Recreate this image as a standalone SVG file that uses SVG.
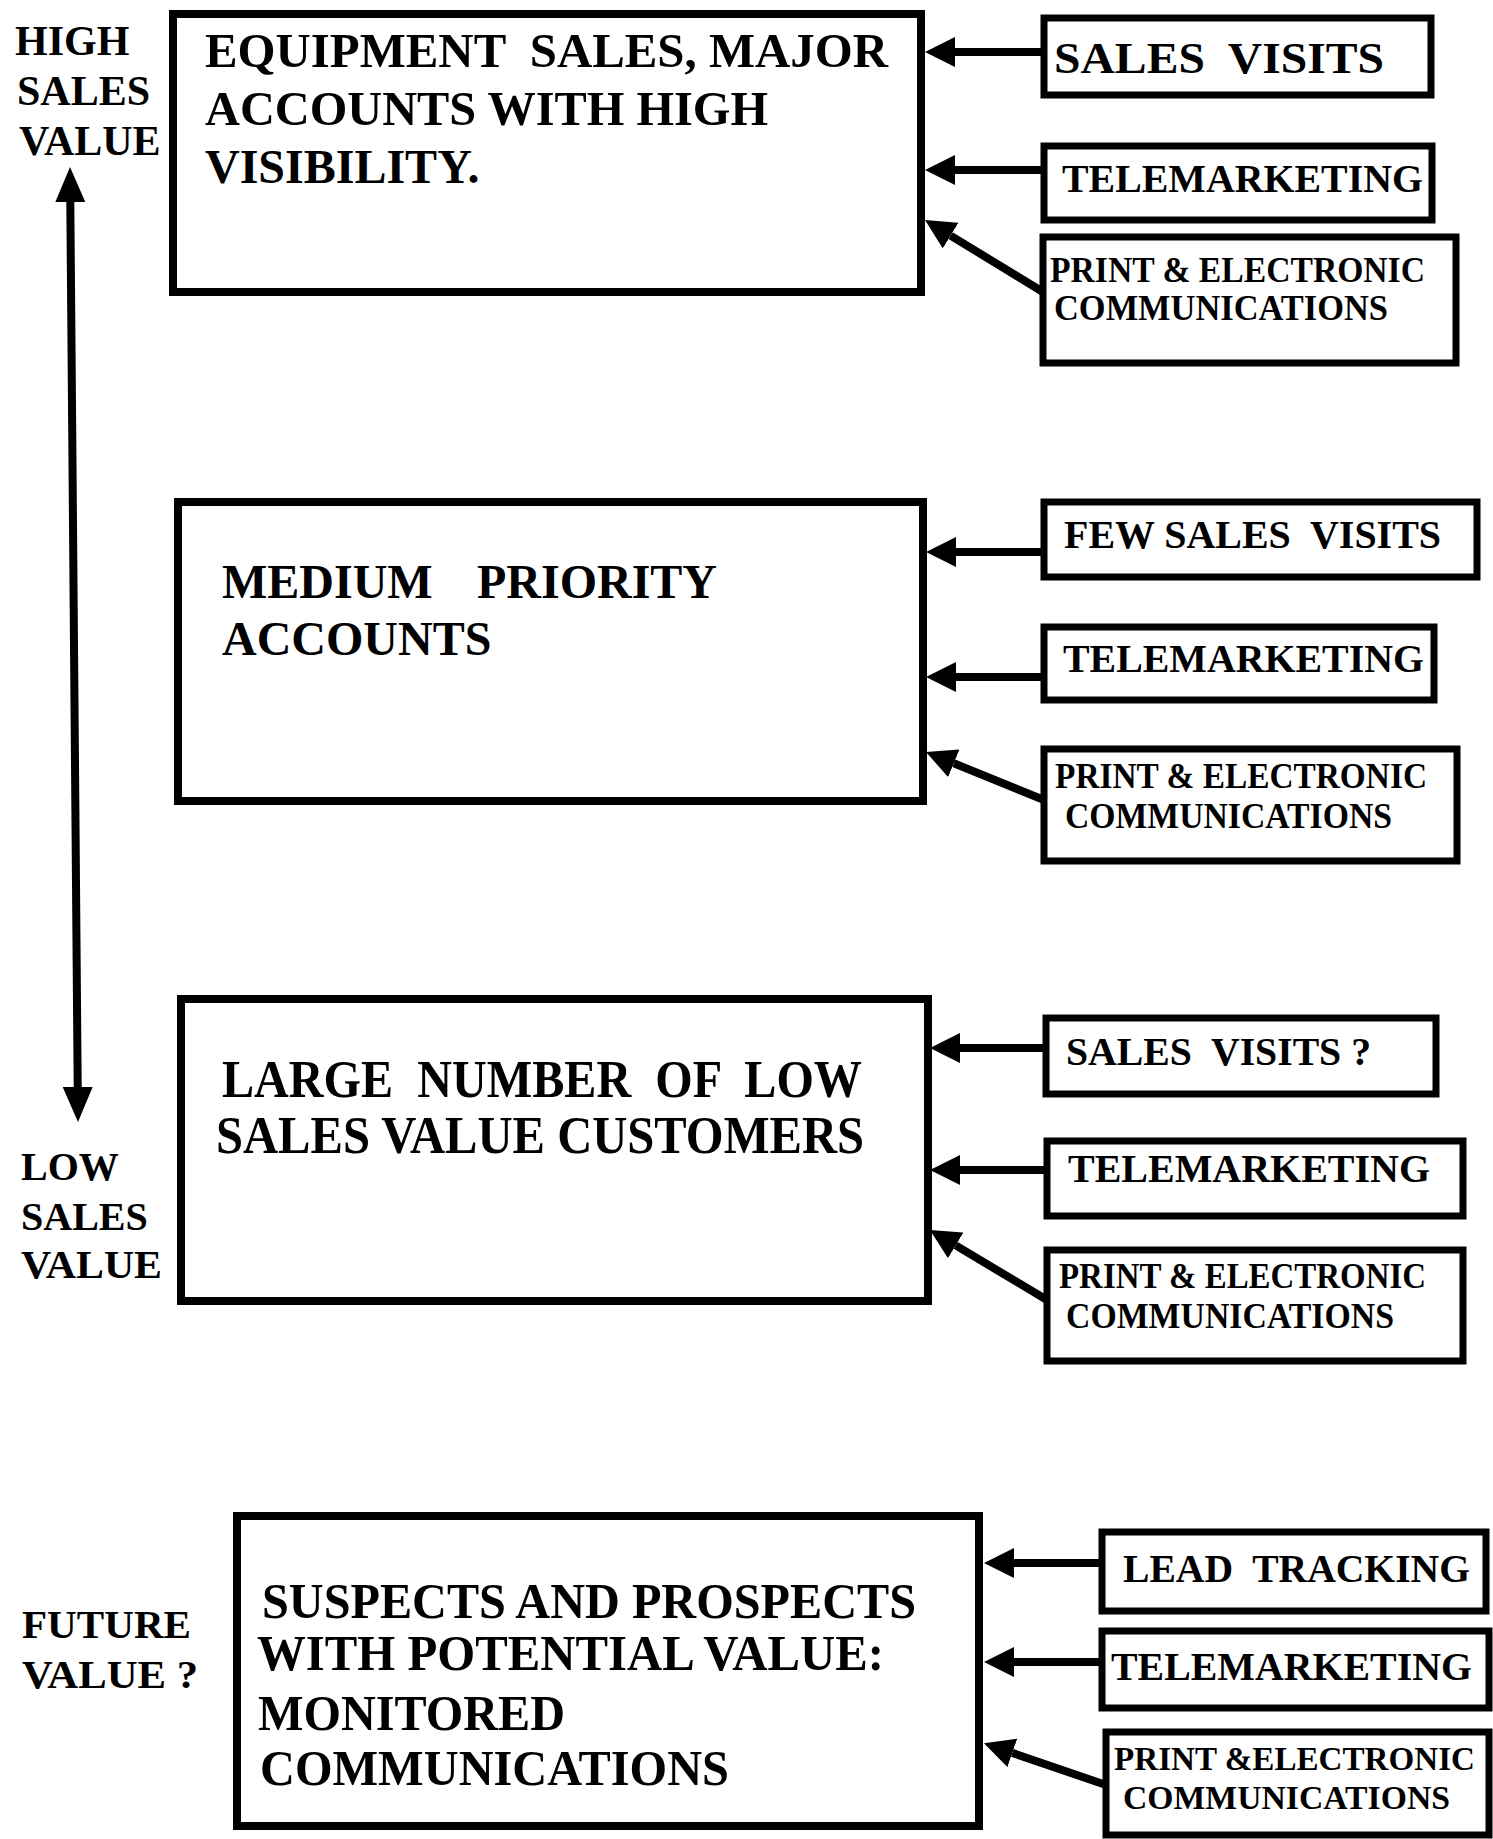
<svg xmlns="http://www.w3.org/2000/svg" width="1493" height="1839" viewBox="0 0 1493 1839">
  <style>
    .main { fill: #fff; stroke: #000; stroke-width: 8; }
    .side { fill: #fff; stroke: #000; stroke-width: 7; }
    text { font-family: "Liberation Serif", "Times New Roman", serif; font-weight: bold; fill: #000; }
    .t48 { font-size: 48px; }
    .t52 { font-size: 52px; }
    .t50 { font-size: 50px; }
    .t45 { font-size: 45px; }
    .t42 { font-size: 42px; }
    .t40 { font-size: 40px; }
    .t36 { font-size: 36px; }
    .t34 { font-size: 34px; }
    .conn { stroke: #000; stroke-width: 8; fill: none; marker-end: url(#head); }
  </style>
  <defs>
    <marker id="head" viewBox="0 0 30 30" refX="0" refY="15" markerWidth="30" markerHeight="30" markerUnits="userSpaceOnUse" orient="auto">
      <path d="M0,0 L30,15 L0,30 Z" fill="#000"/>
    </marker>
    <marker id="vhead" viewBox="0 0 35 30" refX="0" refY="15" markerWidth="35" markerHeight="30" markerUnits="userSpaceOnUse" orient="auto-start-reverse">
      <path d="M0,0 L35,15 L0,30 Z" fill="#000"/>
    </marker>
  </defs>
  <rect width="1493" height="1839" fill="#fff"/>

  <!-- sales value scale -->
  <g id="scale">
    <text class="t42" x="15" y="55">HIGH</text>
    <text class="t42" x="17" y="105">SALES</text>
    <text class="t42" x="19" y="155">VALUE</text>
    <line x1="70.3" y1="202" x2="77.7" y2="1087" stroke="#000" stroke-width="8" marker-start="url(#vhead)" marker-end="url(#vhead)"/>
    <text class="t40" x="21" y="1180">LOW</text>
    <text class="t40" x="21" y="1230">SALES</text>
    <text class="t40" x="21" y="1278" textLength="141" lengthAdjust="spacingAndGlyphs">VALUE</text>
  </g>
  <g id="future-label">
    <text class="t40" x="22" y="1638" textLength="169" lengthAdjust="spacingAndGlyphs">FUTURE</text>
    <text class="t40" x="22" y="1688" textLength="176" lengthAdjust="spacingAndGlyphs">VALUE ?</text>
  </g>

  <!-- account tiers -->
  <g id="major-accounts">
    <rect class="main" x="173" y="14" width="748" height="278"/>
    <text class="t48" x="205" y="67" xml:space="preserve" textLength="683" lengthAdjust="spacingAndGlyphs">EQUIPMENT  SALES, MAJOR</text>
    <text class="t48" x="205" y="125" textLength="563" lengthAdjust="spacingAndGlyphs">ACCOUNTS WITH HIGH</text>
    <text class="t48" x="205" y="183">VISIBILITY.</text>
  </g>
  <g id="medium-accounts">
    <rect class="main" x="178" y="502" width="745" height="299"/>
    <text class="t48" x="222" y="598">MEDIUM</text>
    <text class="t48" x="477" y="598">PRIORITY</text>
    <text class="t48" x="222" y="655">ACCOUNTS</text>
  </g>
  <g id="low-value-customers">
    <rect class="main" x="181" y="999" width="747" height="302"/>
    <text class="t52" x="222" y="1097" xml:space="preserve" textLength="640" lengthAdjust="spacingAndGlyphs">LARGE  NUMBER  OF  LOW</text>
    <text class="t52" x="216" y="1153" textLength="648" lengthAdjust="spacingAndGlyphs">SALES VALUE CUSTOMERS</text>
  </g>
  <g id="prospects">
    <rect class="main" x="237" y="1516" width="742" height="310"/>
    <text class="t50" x="262" y="1618" textLength="654" lengthAdjust="spacingAndGlyphs">SUSPECTS AND PROSPECTS</text>
    <text class="t50" x="257" y="1670" textLength="627" lengthAdjust="spacingAndGlyphs">WITH POTENTIAL VALUE:</text>
    <text class="t50" x="258" y="1730" textLength="307" lengthAdjust="spacingAndGlyphs">MONITORED</text>
    <text class="t50" x="260" y="1785" textLength="469" lengthAdjust="spacingAndGlyphs">COMMUNICATIONS</text>
  </g>

  <!-- contact channels -->
  <g id="major-visits">
    <rect class="side" x="1044" y="18" width="387" height="77"/>
    <text class="t45" x="1054" y="73" xml:space="preserve" textLength="330" lengthAdjust="spacingAndGlyphs">SALES  VISITS</text>
  </g>
  <g id="major-tele">
    <rect class="side" x="1044" y="146" width="388" height="74"/>
    <text class="t40" x="1062" y="192" textLength="361" lengthAdjust="spacingAndGlyphs">TELEMARKETING</text>
  </g>
  <g id="major-print">
    <rect class="side" x="1043" y="237" width="413" height="126"/>
    <text class="t36" x="1050" y="282" textLength="375" lengthAdjust="spacingAndGlyphs">PRINT &amp; ELECTRONIC</text>
    <text class="t36" x="1054" y="320" textLength="334" lengthAdjust="spacingAndGlyphs">COMMUNICATIONS</text>
  </g>

  <g id="medium-visits">
    <rect class="side" x="1044" y="502" width="433" height="75"/>
    <text class="t40" x="1064" y="548" xml:space="preserve" textLength="377" lengthAdjust="spacingAndGlyphs">FEW SALES  VISITS</text>
  </g>
  <g id="medium-tele">
    <rect class="side" x="1044" y="627" width="390" height="73"/>
    <text class="t40" x="1063" y="672" textLength="361" lengthAdjust="spacingAndGlyphs">TELEMARKETING</text>
  </g>
  <g id="medium-print">
    <rect class="side" x="1044" y="749" width="413" height="112"/>
    <text class="t36" x="1055" y="788" textLength="372" lengthAdjust="spacingAndGlyphs">PRINT &amp; ELECTRONIC</text>
    <text class="t36" x="1065" y="828" textLength="327" lengthAdjust="spacingAndGlyphs">COMMUNICATIONS</text>
  </g>

  <g id="low-visits">
    <rect class="side" x="1046" y="1018" width="390" height="76"/>
    <text class="t40" x="1066" y="1065" xml:space="preserve" textLength="305" lengthAdjust="spacingAndGlyphs">SALES  VISITS ?</text>
  </g>
  <g id="low-tele">
    <rect class="side" x="1047" y="1141" width="416" height="75"/>
    <text class="t40" x="1068" y="1182" textLength="362" lengthAdjust="spacingAndGlyphs">TELEMARKETING</text>
  </g>
  <g id="low-print">
    <rect class="side" x="1047" y="1250" width="416" height="111"/>
    <text class="t36" x="1059" y="1288" textLength="367" lengthAdjust="spacingAndGlyphs">PRINT &amp; ELECTRONIC</text>
    <text class="t36" x="1066" y="1328" textLength="328" lengthAdjust="spacingAndGlyphs">COMMUNICATIONS</text>
  </g>

  <g id="prospect-leads">
    <rect class="side" x="1102" y="1532" width="384" height="79"/>
    <text class="t40" x="1123" y="1582" xml:space="preserve" textLength="347" lengthAdjust="spacingAndGlyphs">LEAD  TRACKING</text>
  </g>
  <g id="prospect-tele">
    <rect class="side" x="1102" y="1631" width="387" height="77"/>
    <text class="t40" x="1111" y="1680" textLength="361" lengthAdjust="spacingAndGlyphs">TELEMARKETING</text>
  </g>
  <g id="prospect-print">
    <rect class="side" x="1106" y="1732" width="383" height="103"/>
    <text class="t34" x="1114" y="1770" textLength="361" lengthAdjust="spacingAndGlyphs">PRINT &amp;ELECTRONIC</text>
    <text class="t34" x="1123" y="1809" textLength="327" lengthAdjust="spacingAndGlyphs">COMMUNICATIONS</text>
  </g>

  <!-- channel arrows into each tier -->
  <g id="connectors">
    <line class="conn" x1="1044" y1="52" x2="955" y2="52"/>
    <line class="conn" x1="1044" y1="170" x2="955" y2="170"/>
    <line class="conn" x1="1043" y1="292" x2="950.6" y2="235.6"/>

    <line class="conn" x1="1044" y1="552" x2="956" y2="552"/>
    <line class="conn" x1="1044" y1="677" x2="956" y2="677"/>
    <line class="conn" x1="1044" y1="800" x2="953.8" y2="763.3"/>

    <line class="conn" x1="1047" y1="1048" x2="960" y2="1048"/>
    <line class="conn" x1="1047" y1="1170" x2="960" y2="1170"/>
    <line class="conn" x1="1047" y1="1300" x2="955.7" y2="1245.4"/>

    <line class="conn" x1="1102" y1="1563" x2="1014" y2="1563"/>
    <line class="conn" x1="1102" y1="1662" x2="1014" y2="1662"/>
    <line class="conn" x1="1106" y1="1785" x2="1012.3" y2="1752.9"/>
  </g>
</svg>
